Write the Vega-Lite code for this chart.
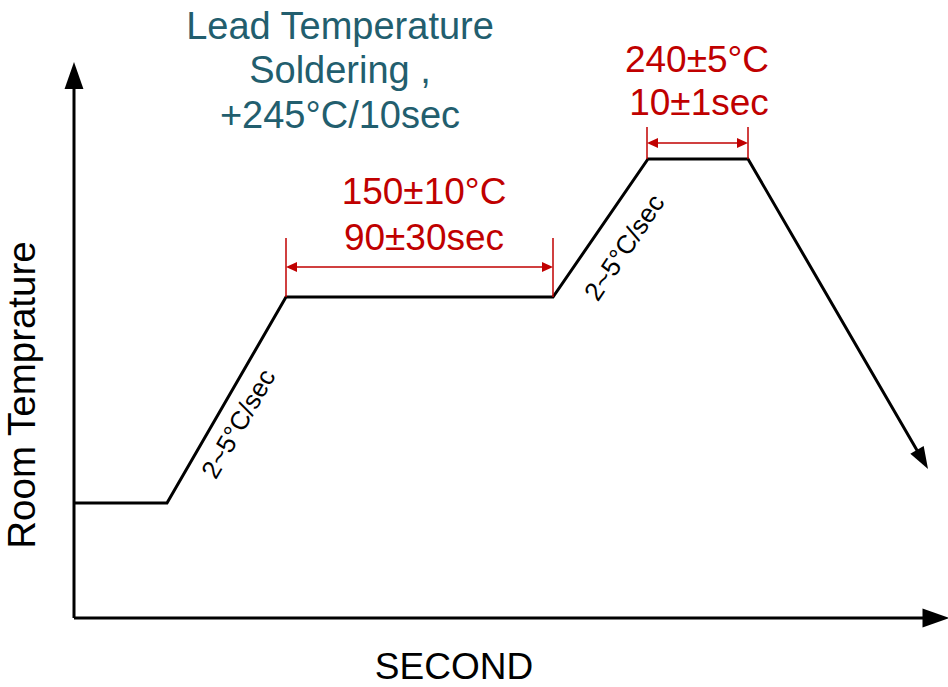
{
  "$schema": "https://vega.github.io/schema/vega-lite/v6.json",
  "width": 948,
  "height": 687,
  "autosize": {"type": "none"},
  "padding": 0,
  "background": "white",
  "view": {"stroke": null},
  "config": {"text": {"font": "Liberation Sans"}},
  "encoding": {
    "x": {"field": "x", "type": "quantitative", "scale": {"domain": [0, 948], "nice": false, "zero": false}, "axis": null},
    "y": {"field": "y", "type": "quantitative", "scale": {"domain": [0, 687], "nice": false, "zero": false}, "axis": null}
  },
  "layer": [
    {
      "data": {"values": [
        {"x": 74, "y": 69, "x2": 74, "y2": 600},
        {"x": 74, "y": 69, "x2": 924, "y2": 69}
      ]},
      "mark": {"type": "rule", "color": "#000000", "strokeWidth": 3},
      "encoding": {"x2": {"field": "x2"}, "y2": {"field": "y2"}}
    },
    {
      "data": {"values": [
        {"i": 1, "x": 74, "y": 184},
        {"i": 2, "x": 167, "y": 184},
        {"i": 3, "x": 286, "y": 390},
        {"i": 4, "x": 553, "y": 390},
        {"i": 5, "x": 648, "y": 528},
        {"i": 6, "x": 748, "y": 528},
        {"i": 7, "x": 918, "y": 235}
      ]},
      "mark": {"type": "line", "color": "#000000", "strokeWidth": 3, "strokeJoin": "miter"},
      "encoding": {"order": {"field": "i", "type": "quantitative"}}
    },
    {
      "data": {"values": [
        {"x": 74, "y": 611.5, "a": 0, "s": 729},
        {"x": 936, "y": 69, "a": 90, "s": 729},
        {"x": 922.5, "y": 227.5, "a": 150, "s": 484}
      ]},
      "mark": {"type": "point", "shape": "M0,-1L0.7,1L-0.7,1Z", "filled": true, "color": "#000000", "opacity": 1, "strokeWidth": 0},
      "encoding": {
        "angle": {"field": "a", "type": "quantitative", "scale": null},
        "size": {"field": "s", "type": "quantitative", "scale": null}
      }
    },
    {
      "data": {"values": [
        {"x": 286, "y": 390, "x2": 286, "y2": 449},
        {"x": 553, "y": 390, "x2": 553, "y2": 449},
        {"x": 290, "y": 420, "x2": 549, "y2": 420},
        {"x": 647, "y": 528, "x2": 647, "y2": 560},
        {"x": 748, "y": 528, "x2": 748, "y2": 560},
        {"x": 651, "y": 544, "x2": 744, "y2": 544}
      ]},
      "mark": {"type": "rule", "color": "#C00000", "strokeWidth": 1.5},
      "encoding": {"x2": {"field": "x2"}, "y2": {"field": "y2"}}
    },
    {
      "data": {"values": [
        {"x": 291.5, "y": 420, "a": 270},
        {"x": 547.5, "y": 420, "a": 90},
        {"x": 652.5, "y": 544, "a": 270},
        {"x": 742.5, "y": 544, "a": 90}
      ]},
      "mark": {"type": "point", "shape": "M0,-1L0.9,1L-0.9,1Z", "filled": true, "color": "#C00000", "opacity": 1, "size": 121, "strokeWidth": 0},
      "encoding": {"angle": {"field": "a", "type": "quantitative", "scale": null}}
    },
    {
      "data": {"values": [
        {"x": 340, "y": 648, "label": "Lead Temperature"},
        {"x": 340, "y": 604, "label": "Soldering ,"},
        {"x": 340, "y": 559, "label": "+245°C/10sec"}
      ]},
      "mark": {"type": "text", "fontSize": 38, "color": "#225E6E", "align": "center", "baseline": "alphabetic"},
      "encoding": {"text": {"field": "label"}}
    },
    {
      "data": {"values": [
        {"x": 424, "y": 483, "label": "150±10°C"},
        {"x": 424, "y": 437, "label": "90±30sec"},
        {"x": 697, "y": 615, "label": "240±5°C"},
        {"x": 699, "y": 572, "label": "10±1sec"}
      ]},
      "mark": {"type": "text", "fontSize": 37, "color": "#C00000", "align": "center", "baseline": "alphabetic"},
      "encoding": {"text": {"field": "label"}}
    },
    {
      "data": {"values": [
        {"x": 239, "y": 263, "a": -60, "label": "2~5°C/sec"},
        {"x": 625, "y": 439, "a": -56, "label": "2~5°C/sec"}
      ]},
      "mark": {"type": "text", "fontSize": 26, "color": "#000000", "align": "center", "baseline": "middle"},
      "encoding": {"text": {"field": "label"}, "angle": {"field": "a", "type": "quantitative", "scale": null}}
    },
    {
      "data": {"values": [
        {"x": 35, "y": 292, "a": -90, "s": 38.5, "label": "Room Temprature"},
        {"x": 454, "y": 8, "a": 0, "s": 37, "label": "SECOND"}
      ]},
      "mark": {"type": "text", "color": "#000000", "align": "center", "baseline": "alphabetic"},
      "encoding": {
        "text": {"field": "label"},
        "angle": {"field": "a", "type": "quantitative", "scale": null},
        "size": {"field": "s", "type": "quantitative", "scale": null}
      }
    }
  ]
}
